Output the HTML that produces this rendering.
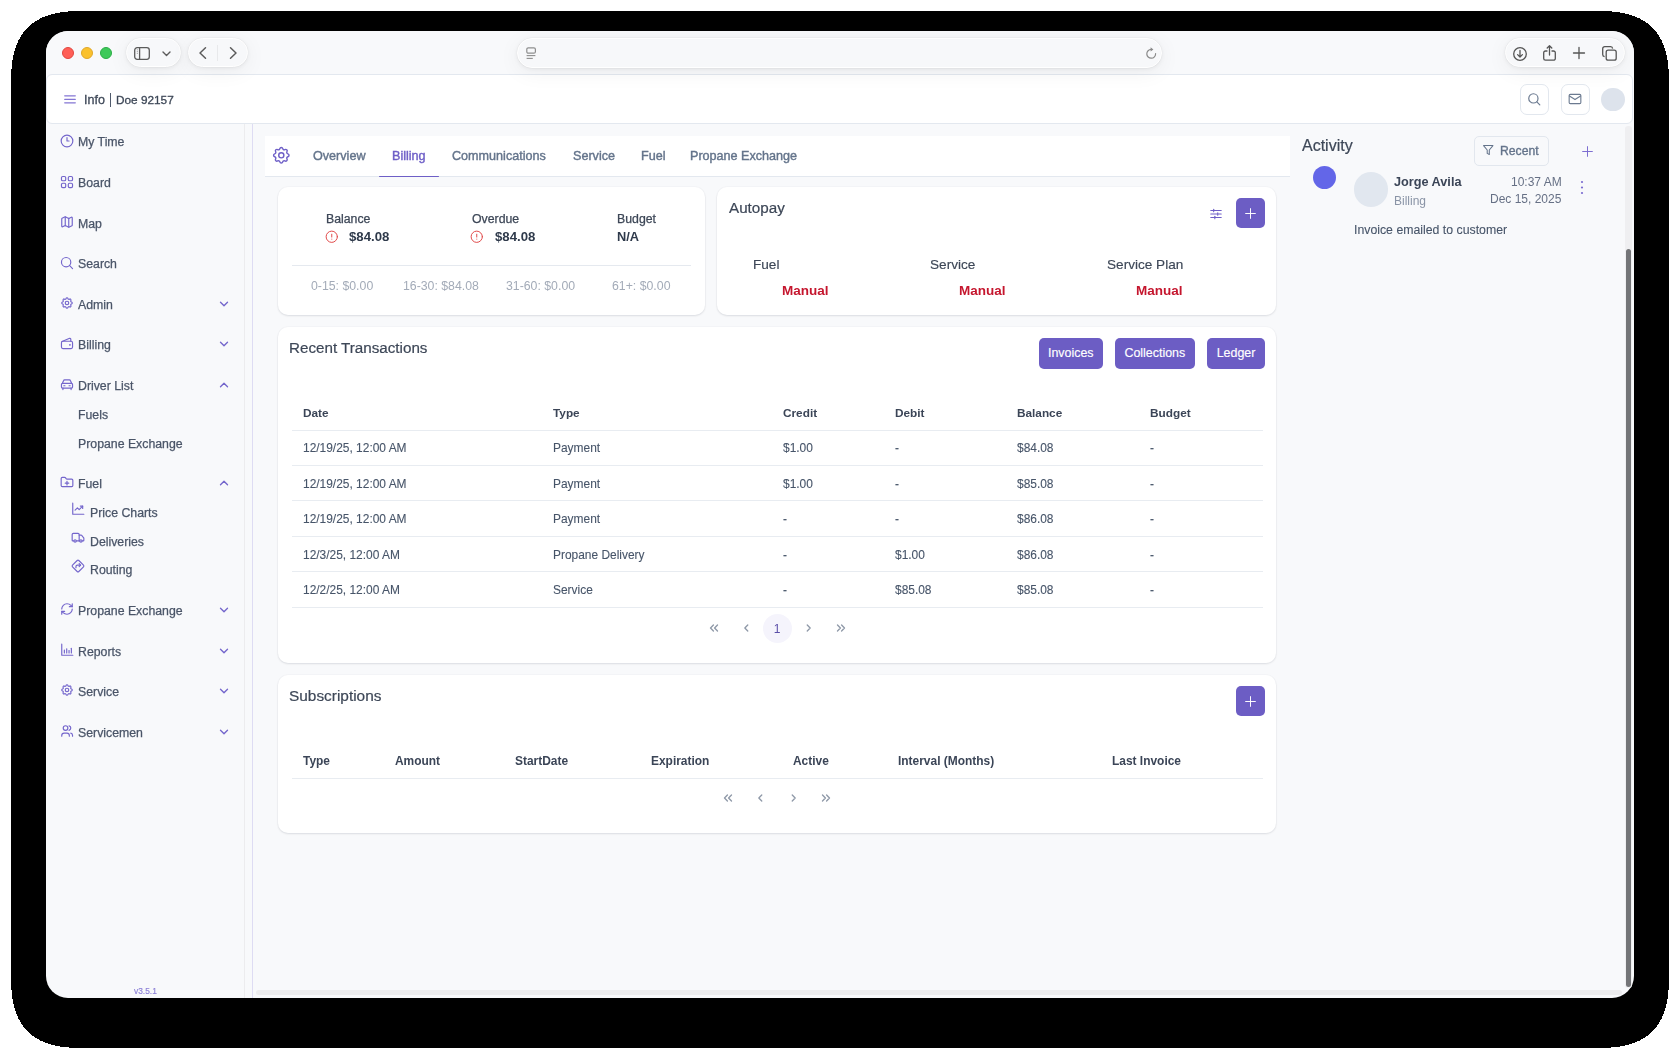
<!DOCTYPE html>
<html><head><meta charset="utf-8">
<style>
*{box-sizing:border-box;margin:0;padding:0}
html,body{width:1680px;height:1059px;overflow:hidden;background:#fff;font-family:"Liberation Sans",sans-serif;color:#475569}
.a{position:absolute}
.t{position:absolute;white-space:nowrap;will-change:transform}
svg{position:absolute;overflow:visible}
#shadow{left:10.5px;top:10px;width:1657.5px;height:1038px;border-radius:55px;background:#000}
#win{left:46px;top:31px;width:1588px;height:967px;border-radius:22px;background:#f8f9fb;overflow:hidden}
#toolbar{left:0;top:0;width:1588px;height:44px;background:#f8f9fb}
.pill{position:absolute;background:#f7f8fa;border:1.5px solid #fff;border-radius:16px;box-shadow:0 0 0 0.5px rgba(0,0,0,0.03),0 1px 4px rgba(0,0,0,0.06),0 4px 22px rgba(0,0,0,0.06)}
.dot{position:absolute;width:12px;height:12px;border-radius:50%}
.card{position:absolute;background:#fff;border-radius:10px;box-shadow:0 1px 2px rgba(16,24,40,0.07),0 1px 3px rgba(16,24,40,0.04),0 0 0 1px rgba(16,24,40,0.015)}
.btn{position:absolute;background:#6c5dc4;border-radius:5px;color:#fff;font-size:12px;text-align:center}
.hl{position:absolute;height:1px;background:#e8ecf1}
</style></head><body>
<svg width="1680" height="1059" style="left:0;top:0"><defs><filter id="shf" x="-10%" y="-10%" width="120%" height="120%"><feGaussianBlur stdDeviation="20"/><feComponentTransfer><feFuncA type="discrete" tableValues="0 0 0 0 0 0 0 0 0 0 0 0 0 0 0 0 0 0 0 0 0 0 0 0 0 0 0 0 0 0 0 0 0 0 0 0 0 0 0 0 1 1 1 1 1 1 1 1 1 1 1 1 1 1 1 1 1 1 1 1 1 1 1 1 1 1 1 1 1 1 1 1 1 1 1 1 1 1 1 1 1 1 1 1 1 1 1 1 1 1 1 1 1 1 1 1 1 1 1 1"/></feComponentTransfer></filter></defs><rect x="16" y="16" width="1648" height="1027" rx="40" fill="#000" filter="url(#shf)"/></svg>
<div id="win" class="a">
  <div id="toolbar" class="a"></div>
</div>
<div class="a" style="left:46px;top:74px;width:1587px;height:50px;background:#fff;border:1px solid #e3e8ef;border-radius:6px"></div>
<div class="a" style="left:46px;top:31px;width:0;height:0">
<!-- traffic lights -->
  <div class="dot" style="left:16px;top:16px;background:#ff5f57;border:0.5px solid #e2463f"></div>
  <div class="dot" style="left:35px;top:16px;background:#fac12e;border:0.5px solid #e0a82a"></div>
  <div class="dot" style="left:54px;top:16px;background:#3ec95a;border:0.5px solid #2aad46"></div>
  <!-- sidebar pill -->
  <div class="pill" style="left:80px;top:7px;width:55px;height:29px"></div>
  <svg style="left:88px;top:16px" width="16" height="13" viewBox="0 0 16 13"><rect x="0.7" y="0.7" width="14.6" height="11.6" rx="2.5" fill="none" stroke="#5b5b5b" stroke-width="1.3"/><line x1="5.6" y1="1" x2="5.6" y2="12" stroke="#5b5b5b" stroke-width="1.3"/><path d="M2.8 2.8h1.2M2.8 4.6h1.2M2.8 6.4h1.2" stroke="#9a9a9a" stroke-width="0.8"/></svg>
  <svg style="left:116px;top:20px" width="9" height="6" viewBox="0 0 9 6"><path d="M1 1 L4.5 4.5 L8 1" fill="none" stroke="#5b5b5b" stroke-width="1.4" stroke-linecap="round" stroke-linejoin="round"/></svg>
  <!-- back/forward pill -->
  <div class="pill" style="left:142px;top:7px;width:60px;height:29px"></div>
  <svg style="left:153px;top:16px" width="8" height="12" viewBox="0 0 8 12"><path d="M6.5 0.8 L1 6 L6.5 11.2" fill="none" stroke="#5b5b5b" stroke-width="1.5" stroke-linecap="round" stroke-linejoin="round"/></svg>
  <div class="a" style="left:171px;top:14px;width:1px;height:16px;background:#e8e9eb"></div>
  <svg style="left:183px;top:16px" width="8" height="12" viewBox="0 0 8 12"><path d="M1.5 0.8 L7 6 L1.5 11.2" fill="none" stroke="#5b5b5b" stroke-width="1.5" stroke-linecap="round" stroke-linejoin="round"/></svg>
  <!-- url bar -->
  <div class="pill" style="left:471px;top:7px;width:645px;height:30px;border-radius:15px"></div>
  <svg style="left:480px;top:16px" width="10" height="13" viewBox="0 0 10 13"><rect x="0.8" y="0.8" width="8.6" height="5.4" rx="1.5" fill="none" stroke="#8e8e8e" stroke-width="1.2"/><line x1="0.6" y1="8.6" x2="9.4" y2="8.6" stroke="#8e8e8e" stroke-width="1.1"/><line x1="0.6" y1="11.4" x2="6.8" y2="11.4" stroke="#8e8e8e" stroke-width="1.1"/></svg>
  <svg style="left:1100px;top:16px" width="11" height="13" viewBox="0 0 11 13"><path d="M9.6 6.6 A4.4 4.4 0 1 1 5.2 2.4" fill="none" stroke="#8a8a8a" stroke-width="1.2" stroke-linecap="round"/><path d="M4.6 0.2 L7.4 2.4 L4.6 4.6 Z" fill="#8a8a8a"/></svg>
  <!-- right pill -->
  <div class="pill" style="left:1459px;top:7px;width:120px;height:29px"></div>
  <svg style="left:1467px;top:15.5px" width="14" height="14" viewBox="0 0 14 14"><circle cx="7" cy="7" r="6.3" fill="none" stroke="#555" stroke-width="1.3"/><path d="M7 3.4 V9.8 M4.6 7.6 L7 10 L9.4 7.6" fill="none" stroke="#555" stroke-width="1.3" stroke-linecap="round" stroke-linejoin="round"/></svg>
  <svg style="left:1497px;top:14px" width="13" height="16" viewBox="0 0 13 16"><path d="M4 6 H2.5 A1.8 1.8 0 0 0 0.7 7.8 V13.4 A1.8 1.8 0 0 0 2.5 15.2 H10.5 A1.8 1.8 0 0 0 12.3 13.4 V7.8 A1.8 1.8 0 0 0 10.5 6 H9 M6.5 10 V0.8 M4.2 3 L6.5 0.8 L8.8 3" fill="none" stroke="#555" stroke-width="1.3" stroke-linecap="round" stroke-linejoin="round"/></svg>
  <svg style="left:1527px;top:16px" width="12" height="12" viewBox="0 0 12 12"><path d="M6 0.5 V11.5 M0.5 6 H11.5" fill="none" stroke="#555" stroke-width="1.3" stroke-linecap="round"/></svg>
  <svg style="left:1556px;top:15px" width="15" height="15" viewBox="0 0 15 15"><rect x="4.2" y="4.2" width="10" height="10" rx="2" fill="none" stroke="#555" stroke-width="1.3"/><path d="M2.6 10.6 A2 2 0 0 1 0.7 8.6 V2.7 A2 2 0 0 1 2.7 0.7 H8.6 A2 2 0 0 1 10.6 2.6" fill="none" stroke="#555" stroke-width="1.3"/></svg>

  </div>
<svg style="left:64.2px;top:94.6px" width="12" height="9" viewBox="0 0 12 9"><path d="M0.7 0.8H11.3M0.7 4.3H11.3M0.7 7.8H11.3" stroke="#8476d4" stroke-width="1.25" stroke-linecap="round"/></svg>
<div class="t" style="left:84.0px;top:91.8px;font-size:12.5px;line-height:16px;color:#3d4757;font-weight:normal;-webkit-text-stroke:0.3px #3d4757">Info</div>
<div class="a" style="left:110px;top:93px;width:1px;height:14px;background:#4f5a6c"></div>
<div class="t" style="left:116.2px;top:91.8px;font-size:11.8px;line-height:16px;color:#3d4757;font-weight:normal;-webkit-text-stroke:0.3px #3d4757">Doe 92157</div>
<div class="a" style="left:1520.4px;top:84.2px;width:28.6px;height:30.4px;border:1px solid #e2e7ee;border-radius:7px;background:#fff"></div>
<svg style="left:1527.4px;top:91.9px" width="15" height="15" viewBox="0 0 24 24" fill="none" stroke="#6b7a90" stroke-width="1.9" stroke-linecap="round" stroke-linejoin="round"><circle cx="10.2" cy="10.2" r="7.4"/><path d="M20.5 20.5l-4.8-4.8"/></svg>
<div class="a" style="left:1561px;top:84.2px;width:28.6px;height:30.4px;border:1px solid #e2e7ee;border-radius:7px;background:#fff"></div>
<svg style="left:1568.2px;top:91.9px" width="14" height="14" viewBox="0 0 24 24" fill="none" stroke="#6b7a90" stroke-width="1.9" stroke-linecap="round" stroke-linejoin="round"><rect x="2" y="4" width="20" height="16" rx="2"/><path d="M2.5 7l9.5 6 9.5-6"/></svg>
<div class="a" style="left:1601.4px;top:87.5px;width:23.3px;height:23.3px;border-radius:50%;background:#dde3ec"></div>
<div class="a" style="left:244px;top:124px;width:1px;height:874px;background:#ececee"></div>
<div class="a" style="left:252px;top:124px;width:1px;height:874px;background:#dedcf3"></div>
<svg style="left:59.6px;top:133.70000000000002px" width="14" height="14" viewBox="0 0 24 24" fill="none" stroke="#7466cc" stroke-width="2.0" stroke-linecap="round" stroke-linejoin="round"><circle cx="12" cy="12" r="10"/><path d="M12 6v6h3.5"/></svg>
<div class="t" style="left:78.3px;top:134.3px;font-size:12.3px;line-height:16px;color:#4a5568;font-weight:normal;-webkit-text-stroke:0.25px #4a5568">My Time</div>
<svg style="left:59.6px;top:174.6px" width="14" height="14" viewBox="0 0 24 24" fill="none" stroke="#7466cc" stroke-width="2.0" stroke-linecap="round" stroke-linejoin="round"><rect x="2.5" y="2.5" width="7.3" height="7.3" rx="2.2"/><rect x="14.2" y="2.5" width="7.3" height="7.3" rx="2.2"/><rect x="2.5" y="14.2" width="7.3" height="7.3" rx="2.2"/><rect x="14.2" y="14.2" width="7.3" height="7.3" rx="2.2"/></svg>
<div class="t" style="left:78.3px;top:175.2px;font-size:12.3px;line-height:16px;color:#4a5568;font-weight:normal;-webkit-text-stroke:0.25px #4a5568">Board</div>
<svg style="left:59.6px;top:215.3px" width="14" height="14" viewBox="0 0 24 24" fill="none" stroke="#7466cc" stroke-width="2.0" stroke-linecap="round" stroke-linejoin="round"><path d="M14.1 5.55a2 2 0 0 0 1.79 0l3.66-1.83A1 1 0 0 1 21 4.62v12.76a1 1 0 0 1-.55.9l-4.55 2.27a2 2 0 0 1-1.79 0l-4.21-2.1a2 2 0 0 0-1.79 0l-3.66 1.83A1 1 0 0 1 3 19.38V6.62a1 1 0 0 1 .55-.9l4.55-2.27a2 2 0 0 1 1.79 0z"/><path d="M15 5.76v15"/><path d="M9 3.24v15"/></svg>
<div class="t" style="left:78.3px;top:215.9px;font-size:12.3px;line-height:16px;color:#4a5568;font-weight:normal;-webkit-text-stroke:0.25px #4a5568">Map</div>
<svg style="left:59.6px;top:255.79999999999998px" width="14" height="14" viewBox="0 0 24 24" fill="none" stroke="#7466cc" stroke-width="2.0" stroke-linecap="round" stroke-linejoin="round"><circle cx="10.5" cy="10.5" r="8"/><path d="M21.5 21.5l-5.3-5.3"/></svg>
<div class="t" style="left:78.3px;top:256.4px;font-size:12.3px;line-height:16px;color:#4a5568;font-weight:normal;-webkit-text-stroke:0.25px #4a5568">Search</div>
<svg style="left:59.6px;top:296.2px" width="14" height="14" viewBox="0 0 24 24" fill="none" stroke="#7466cc" stroke-width="2.0" stroke-linecap="round" stroke-linejoin="round"><path d="M10.325 4.317c.426 -1.756 2.924 -1.756 3.35 0a1.724 1.724 0 0 0 2.573 1.066c1.543 -.94 3.31 .826 2.37 2.37a1.724 1.724 0 0 0 1.065 2.572c1.756 .426 1.756 2.924 0 3.35a1.724 1.724 0 0 0 -1.066 2.573c.94 1.543 -.826 3.31 -2.37 2.37a1.724 1.724 0 0 0 -2.572 1.065c-.426 1.756 -2.924 1.756 -3.35 0a1.724 1.724 0 0 0 -2.573 -1.066c-1.543 .94 -3.31 -.826 -2.37 -2.37a1.724 1.724 0 0 0 -1.065 -2.572c-1.756 -.426 -1.756 -2.924 0 -3.35a1.724 1.724 0 0 0 1.066 -2.573c-.94 -1.543 .826 -3.31 2.37 -2.37c1 .608 2.296 .07 2.572 -1.065z"/><circle cx="12" cy="12" r="3"/></svg>
<div class="t" style="left:78.3px;top:296.8px;font-size:12.3px;line-height:16px;color:#4a5568;font-weight:normal;-webkit-text-stroke:0.25px #4a5568">Admin</div>
<svg style="left:217px;top:297.2px" width="14" height="14" viewBox="0 0 24 24" fill="none" stroke="#7466cc" stroke-width="2.3" stroke-linecap="round" stroke-linejoin="round"><path d="M6 9l6 6 6-6"/></svg>
<svg style="left:59.6px;top:336.4px" width="14" height="14" viewBox="0 0 24 24" fill="none" stroke="#7466cc" stroke-width="2.0" stroke-linecap="round" stroke-linejoin="round"><path d="M3.5 9.5 L16.5 4 a1.5 1.5 0 0 1 2 1.4 V9"/><rect x="2.5" y="9" width="19" height="12.5" rx="2.5"/><circle cx="17" cy="15.2" r="0.6"/></svg>
<div class="t" style="left:78.3px;top:337.0px;font-size:12.3px;line-height:16px;color:#4a5568;font-weight:normal;-webkit-text-stroke:0.25px #4a5568">Billing</div>
<svg style="left:217px;top:337.4px" width="14" height="14" viewBox="0 0 24 24" fill="none" stroke="#7466cc" stroke-width="2.3" stroke-linecap="round" stroke-linejoin="round"><path d="M6 9l6 6 6-6"/></svg>
<svg style="left:59.6px;top:376.9px" width="14" height="14" viewBox="0 0 24 24" fill="none" stroke="#7466cc" stroke-width="2.0" stroke-linecap="round" stroke-linejoin="round"><path d="M4 11 L6 6.3 A2 2 0 0 1 7.9 5 H16.1 A2 2 0 0 1 18 6.3 L20 11"/><rect x="2.5" y="11" width="19" height="8" rx="2"/><path d="M5 19v2.5"/><path d="M19 19v2.5"/><path d="M6.5 15h2"/><path d="M15.5 15h2"/></svg>
<div class="t" style="left:78.3px;top:377.5px;font-size:12.3px;line-height:16px;color:#4a5568;font-weight:normal;-webkit-text-stroke:0.25px #4a5568">Driver List</div>
<svg style="left:217px;top:377.9px" width="14" height="14" viewBox="0 0 24 24" fill="none" stroke="#7466cc" stroke-width="2.3" stroke-linecap="round" stroke-linejoin="round"><path d="M6 15l6-6 6 6"/></svg>
<div class="t" style="left:78.3px;top:406.6px;font-size:12.3px;line-height:16px;color:#4a5568;font-weight:normal;-webkit-text-stroke:0.25px #4a5568">Fuels</div>
<div class="t" style="left:78.3px;top:435.7px;font-size:12.3px;line-height:16px;color:#4a5568;font-weight:normal;-webkit-text-stroke:0.25px #4a5568">Propane Exchange</div>
<svg style="left:59.6px;top:475.0px" width="14" height="14" viewBox="0 0 24 24" fill="none" stroke="#7466cc" stroke-width="2.0" stroke-linecap="round" stroke-linejoin="round"><path d="M12 11v6"/><path d="M9 14h6"/><path d="M20 20a2 2 0 0 0 2-2V9a2 2 0 0 0-2-2h-7.9a2 2 0 0 1-1.69-.9L9.6 4.9A2 2 0 0 0 7.93 4H4a2 2 0 0 0-2 2v12a2 2 0 0 0 2 2Z"/></svg>
<div class="t" style="left:78.3px;top:475.6px;font-size:12.3px;line-height:16px;color:#4a5568;font-weight:normal;-webkit-text-stroke:0.25px #4a5568">Fuel</div>
<svg style="left:217px;top:476.0px" width="14" height="14" viewBox="0 0 24 24" fill="none" stroke="#7466cc" stroke-width="2.3" stroke-linecap="round" stroke-linejoin="round"><path d="M6 15l6-6 6 6"/></svg>
<svg style="left:71px;top:501.70000000000005px" width="14" height="14" viewBox="0 0 24 24" fill="none" stroke="#7466cc" stroke-width="2.0" stroke-linecap="round" stroke-linejoin="round"><path d="M3 2v19h19"/><path d="M7 14l4-4 3 3 6-6"/><path d="M16 7h4v4"/></svg>
<div class="t" style="left:89.7px;top:504.7px;font-size:12.3px;line-height:16px;color:#4a5568;font-weight:normal;-webkit-text-stroke:0.25px #4a5568">Price Charts</div>
<svg style="left:71px;top:530.5px" width="14" height="14" viewBox="0 0 24 24" fill="none" stroke="#7466cc" stroke-width="2.0" stroke-linecap="round" stroke-linejoin="round"><path d="M14 17V6a2 2 0 0 0-2-2H4a2 2 0 0 0-2 2v10a1 1 0 0 0 1 1h2"/><path d="M15 17H9"/><path d="M19 17h2a1 1 0 0 0 1-1v-3.65a1 1 0 0 0-.22-.62l-3.48-4.35A1 1 0 0 0 17.52 7H14"/><circle cx="17" cy="17" r="2"/><circle cx="7" cy="17" r="2"/></svg>
<div class="t" style="left:89.7px;top:533.5px;font-size:12.3px;line-height:16px;color:#4a5568;font-weight:normal;-webkit-text-stroke:0.25px #4a5568">Deliveries</div>
<svg style="left:71px;top:559.3px" width="14" height="14" viewBox="0 0 24 24" fill="none" stroke="#7466cc" stroke-width="2.0" stroke-linecap="round" stroke-linejoin="round"><path d="M10.6 2.6 L2.6 10.6 a2 2 0 0 0 0 2.8 L10.6 21.4 a2 2 0 0 0 2.8 0 L21.4 13.4 a2 2 0 0 0 0 -2.8 L13.4 2.6 a2 2 0 0 0 -2.8 0z"/><path d="M8.5 15v-2a2.5 2.5 0 0 1 2.5-2.5h5"/><path d="M14 8l2.5 2.5L14 13"/></svg>
<div class="t" style="left:89.7px;top:562.3px;font-size:12.3px;line-height:16px;color:#4a5568;font-weight:normal;-webkit-text-stroke:0.25px #4a5568">Routing</div>
<svg style="left:59.6px;top:602.1px" width="14" height="14" viewBox="0 0 24 24" fill="none" stroke="#7466cc" stroke-width="2.0" stroke-linecap="round" stroke-linejoin="round"><path d="M3 12a9 9 0 0 1 9-9 9.75 9.75 0 0 1 6.74 2.74L21 8"/><path d="M21 3v5h-5"/><path d="M21 12a9 9 0 0 1-9 9 9.75 9.75 0 0 1-6.74-2.74L3 16"/><path d="M8 16H3v5"/></svg>
<div class="t" style="left:78.3px;top:602.7px;font-size:12.3px;line-height:16px;color:#4a5568;font-weight:normal;-webkit-text-stroke:0.25px #4a5568">Propane Exchange</div>
<svg style="left:217px;top:603.1px" width="14" height="14" viewBox="0 0 24 24" fill="none" stroke="#7466cc" stroke-width="2.3" stroke-linecap="round" stroke-linejoin="round"><path d="M6 9l6 6 6-6"/></svg>
<svg style="left:59.6px;top:642.9px" width="14" height="14" viewBox="0 0 24 24" fill="none" stroke="#7466cc" stroke-width="2.0" stroke-linecap="round" stroke-linejoin="round"><path d="M3 2v19h19"/><path d="M7.5 17v-5"/><path d="M11.5 17v-7"/><path d="M15.5 17v-4"/><path d="M19.5 17v-8"/></svg>
<div class="t" style="left:78.3px;top:643.5px;font-size:12.3px;line-height:16px;color:#4a5568;font-weight:normal;-webkit-text-stroke:0.25px #4a5568">Reports</div>
<svg style="left:217px;top:643.9px" width="14" height="14" viewBox="0 0 24 24" fill="none" stroke="#7466cc" stroke-width="2.3" stroke-linecap="round" stroke-linejoin="round"><path d="M6 9l6 6 6-6"/></svg>
<svg style="left:59.6px;top:683.1px" width="14" height="14" viewBox="0 0 24 24" fill="none" stroke="#7466cc" stroke-width="2.0" stroke-linecap="round" stroke-linejoin="round"><path d="M10.325 4.317c.426 -1.756 2.924 -1.756 3.35 0a1.724 1.724 0 0 0 2.573 1.066c1.543 -.94 3.31 .826 2.37 2.37a1.724 1.724 0 0 0 1.065 2.572c1.756 .426 1.756 2.924 0 3.35a1.724 1.724 0 0 0 -1.066 2.573c.94 1.543 -.826 3.31 -2.37 2.37a1.724 1.724 0 0 0 -2.572 1.065c-.426 1.756 -2.924 1.756 -3.35 0a1.724 1.724 0 0 0 -2.573 -1.066c-1.543 .94 -3.31 -.826 -2.37 -2.37a1.724 1.724 0 0 0 -1.065 -2.572c-1.756 -.426 -1.756 -2.924 0 -3.35a1.724 1.724 0 0 0 1.066 -2.573c-.94 -1.543 .826 -3.31 2.37 -2.37c1 .608 2.296 .07 2.572 -1.065z"/><circle cx="12" cy="12" r="3"/></svg>
<div class="t" style="left:78.3px;top:683.7px;font-size:12.3px;line-height:16px;color:#4a5568;font-weight:normal;-webkit-text-stroke:0.25px #4a5568">Service</div>
<svg style="left:217px;top:684.1px" width="14" height="14" viewBox="0 0 24 24" fill="none" stroke="#7466cc" stroke-width="2.3" stroke-linecap="round" stroke-linejoin="round"><path d="M6 9l6 6 6-6"/></svg>
<svg style="left:59.6px;top:723.9px" width="14" height="14" viewBox="0 0 24 24" fill="none" stroke="#7466cc" stroke-width="2.0" stroke-linecap="round" stroke-linejoin="round"><path d="M16 21v-1.5a4 4 0 0 0-4-4H7a4 4 0 0 0-4 4V21"/><circle cx="9.5" cy="7" r="4"/><path d="M21.5 21v-1.5a4 4 0 0 0-3-3.87"/><path d="M15.5 3.13a4 4 0 0 1 0 7.75"/></svg>
<div class="t" style="left:78.3px;top:724.5px;font-size:12.3px;line-height:16px;color:#4a5568;font-weight:normal;-webkit-text-stroke:0.25px #4a5568">Servicemen</div>
<svg style="left:217px;top:724.9px" width="14" height="14" viewBox="0 0 24 24" fill="none" stroke="#7466cc" stroke-width="2.3" stroke-linecap="round" stroke-linejoin="round"><path d="M6 9l6 6 6-6"/></svg>
<div class="t" style="left:134px;top:985.5px;font-size:8.4px;line-height:10px;color:#8b7fd6;font-weight:normal;-webkit-text-stroke:0.15px #8b7fd6">v3.5.1</div>
<div class="a" style="left:264.5px;top:135.5px;width:1025.5px;height:41px;background:#fff;border-bottom:1px solid #e3e8ef"></div>
<svg style="left:271.45px;top:144.95px" width="20.6" height="20.6" viewBox="0 0 24 24" fill="none" stroke="#6e5fc7" stroke-width="1.65" stroke-linecap="round" stroke-linejoin="round"><path d="M10.325 4.317c.426 -1.756 2.924 -1.756 3.35 0a1.724 1.724 0 0 0 2.573 1.066c1.543 -.94 3.31 .826 2.37 2.37a1.724 1.724 0 0 0 1.065 2.572c1.756 .426 1.756 2.924 0 3.35a1.724 1.724 0 0 0 -1.066 2.573c.94 1.543 -.826 3.31 -2.37 2.37a1.724 1.724 0 0 0 -2.572 1.065c-.426 1.756 -2.924 1.756 -3.35 0a1.724 1.724 0 0 0 -2.573 -1.066c-1.543 .94 -3.31 -.826 -2.37 -2.37a1.724 1.724 0 0 0 -1.065 -2.572c-1.756 -.426 -1.756 -2.924 0 -3.35a1.724 1.724 0 0 0 1.066 -2.573c-.94 -1.543 .826 -3.31 2.37 -2.37c1 .608 2.296 .07 2.572 -1.065z"/><circle cx="12" cy="12" r="3"/></svg>
<div class="t" style="left:312.5px;top:147.9px;font-size:12.6px;line-height:16px;color:#64748b;font-weight:normal;-webkit-text-stroke:0.4px #64748b">Overview</div>
<div class="t" style="left:391.8px;top:147.9px;font-size:12.6px;line-height:16px;color:#6e5fc7;font-weight:normal;-webkit-text-stroke:0.4px #6e5fc7">Billing</div>
<div class="t" style="left:451.8px;top:147.9px;font-size:12.6px;line-height:16px;color:#64748b;font-weight:normal;-webkit-text-stroke:0.4px #64748b">Communications</div>
<div class="t" style="left:572.5px;top:147.9px;font-size:12.6px;line-height:16px;color:#64748b;font-weight:normal;-webkit-text-stroke:0.4px #64748b">Service</div>
<div class="t" style="left:640.7px;top:147.9px;font-size:12.6px;line-height:16px;color:#64748b;font-weight:normal;-webkit-text-stroke:0.4px #64748b">Fuel</div>
<div class="t" style="left:690px;top:147.9px;font-size:12.6px;line-height:16px;color:#64748b;font-weight:normal;-webkit-text-stroke:0.4px #64748b">Propane Exchange</div>
<div class="a" style="left:378.6px;top:175.5px;width:60.4px;height:1.6px;background:#6e5fc7;border-radius:1px"></div>
<div class="card" style="left:278px;top:187px;width:427px;height:128px"></div>
<div class="t" style="left:325.7px;top:211.3px;font-size:12.3px;line-height:16px;color:#3d4757;font-weight:normal;-webkit-text-stroke:0.25px #3d4757">Balance</div>
<svg style="left:325px;top:229.6px" width="13.5" height="13.5" viewBox="0 0 24 24" fill="none" stroke="#e04848" stroke-width="1.75" stroke-linecap="round" stroke-linejoin="round"><circle cx="12" cy="12" r="10"/><path d="M12 7.5v5"/><path d="M12 16.2v.1"/></svg>
<div class="t" style="left:349.3px;top:228.6px;font-size:13.2px;line-height:16px;color:#2f3a4b;font-weight:bold;">$84.08</div>
<div class="t" style="left:471.5px;top:211.3px;font-size:12.3px;line-height:16px;color:#3d4757;font-weight:normal;-webkit-text-stroke:0.25px #3d4757">Overdue</div>
<svg style="left:470.2px;top:229.6px" width="13.5" height="13.5" viewBox="0 0 24 24" fill="none" stroke="#e04848" stroke-width="1.75" stroke-linecap="round" stroke-linejoin="round"><circle cx="12" cy="12" r="10"/><path d="M12 7.5v5"/><path d="M12 16.2v.1"/></svg>
<div class="t" style="left:494.5px;top:228.6px;font-size:13.2px;line-height:16px;color:#2f3a4b;font-weight:bold;">$84.08</div>
<div class="t" style="left:616.8px;top:211.3px;font-size:12.3px;line-height:16px;color:#3d4757;font-weight:normal;-webkit-text-stroke:0.25px #3d4757">Budget</div>
<div class="t" style="left:616.8px;top:228.6px;font-size:12.8px;line-height:16px;color:#2f3a4b;font-weight:bold;">N/A</div>
<div class="hl" style="left:292px;top:265px;width:399px;background:#e5e9ef"></div>
<div class="t" style="left:310.7px;top:277.8px;font-size:12.3px;line-height:16px;color:#a3abb8;font-weight:normal;">0-15: $0.00</div>
<div class="t" style="left:403.2px;top:277.8px;font-size:12.3px;line-height:16px;color:#a3abb8;font-weight:normal;">16-30: $84.08</div>
<div class="t" style="left:506.4px;top:277.8px;font-size:12.3px;line-height:16px;color:#a3abb8;font-weight:normal;">31-60: $0.00</div>
<div class="t" style="left:611.9px;top:277.8px;font-size:12.3px;line-height:16px;color:#a3abb8;font-weight:normal;">61+: $0.00</div>
<div class="card" style="left:717px;top:187px;width:559px;height:128px"></div>
<div class="t" style="left:729px;top:199.3px;font-size:15.2px;line-height:18px;color:#3d4757;font-weight:normal;-webkit-text-stroke:0.2px #3d4757">Autopay</div>
<svg style="left:1208.6px;top:207.3px" width="14" height="14" viewBox="0 0 24 24" fill="none" stroke="#6e5fc7" stroke-width="1.8" stroke-linecap="round" stroke-linejoin="round"><path d="M3 6h18"/><path d="M3 12h18"/><path d="M3 18h18"/><path d="M8 4v4"/><path d="M15 10v4"/><path d="M10 16v4"/></svg>
<div class="btn" style="left:1236px;top:197.8px;width:29px;height:30.5px"></div>
<svg style="left:1244px;top:207px" width="13" height="13" viewBox="0 0 24 24" fill="none" stroke="#fff" stroke-width="1.8" stroke-linecap="round" stroke-linejoin="round"><path d="M12 3v18M3 12h18"/></svg>
<div class="t" style="left:753px;top:256.8px;font-size:13.6px;line-height:16px;color:#3d4757;font-weight:normal;-webkit-text-stroke:0.15px #3d4757">Fuel</div>
<div class="t" style="left:781.8px;top:282.6px;font-size:13.5px;line-height:16px;color:#c5162e;font-weight:bold;">Manual</div>
<div class="t" style="left:930px;top:256.8px;font-size:13.6px;line-height:16px;color:#3d4757;font-weight:normal;-webkit-text-stroke:0.15px #3d4757">Service</div>
<div class="t" style="left:959px;top:282.6px;font-size:13.5px;line-height:16px;color:#c5162e;font-weight:bold;">Manual</div>
<div class="t" style="left:1107px;top:256.8px;font-size:13.6px;line-height:16px;color:#3d4757;font-weight:normal;-webkit-text-stroke:0.15px #3d4757">Service Plan</div>
<div class="t" style="left:1135.6px;top:282.6px;font-size:13.5px;line-height:16px;color:#c5162e;font-weight:bold;">Manual</div>
<div class="card" style="left:278px;top:327px;width:998px;height:336px"></div>
<div class="t" style="left:289.2px;top:339.0px;font-size:15.2px;line-height:18px;color:#3d4757;font-weight:normal;-webkit-text-stroke:0.2px #3d4757">Recent Transactions</div>
<div class="btn" style="left:1038.5px;top:338px;width:64.5px;height:30.6px;line-height:30.6px;font-size:12.45px;-webkit-text-stroke:0.15px #fff">Invoices</div>
<div class="btn" style="left:1114.5px;top:338px;width:80.7px;height:30.6px;line-height:30.6px;font-size:12.45px;-webkit-text-stroke:0.15px #fff">Collections</div>
<div class="btn" style="left:1207px;top:338px;width:58px;height:30.6px;line-height:30.6px;font-size:12.45px;-webkit-text-stroke:0.15px #fff">Ledger</div>
<div class="t" style="left:303.4px;top:404.5px;font-size:11.8px;line-height:16px;color:#3b4557;font-weight:bold;">Date</div>
<div class="t" style="left:552.7px;top:404.5px;font-size:11.8px;line-height:16px;color:#3b4557;font-weight:bold;">Type</div>
<div class="t" style="left:782.7px;top:404.5px;font-size:11.8px;line-height:16px;color:#3b4557;font-weight:bold;">Credit</div>
<div class="t" style="left:895px;top:404.5px;font-size:11.8px;line-height:16px;color:#3b4557;font-weight:bold;">Debit</div>
<div class="t" style="left:1016.5px;top:404.5px;font-size:11.8px;line-height:16px;color:#3b4557;font-weight:bold;">Balance</div>
<div class="t" style="left:1149.6px;top:404.5px;font-size:11.8px;line-height:16px;color:#3b4557;font-weight:bold;">Budget</div>
<div class="hl" style="left:291.5px;top:430px;width:971px"></div>
<div class="t" style="left:303.4px;top:440.0px;font-size:11.95px;line-height:16px;color:#475569;font-weight:normal;-webkit-text-stroke:0.1px #475569">12/19/25, 12:00 AM</div>
<div class="t" style="left:552.7px;top:440.0px;font-size:11.95px;line-height:16px;color:#475569;font-weight:normal;-webkit-text-stroke:0.1px #475569">Payment</div>
<div class="t" style="left:782.7px;top:440.0px;font-size:11.95px;line-height:16px;color:#475569;font-weight:normal;-webkit-text-stroke:0.1px #475569">$1.00</div>
<div class="t" style="left:895px;top:440.0px;font-size:11.95px;line-height:16px;color:#475569;font-weight:normal;-webkit-text-stroke:0.1px #475569">-</div>
<div class="t" style="left:1016.5px;top:440.0px;font-size:11.95px;line-height:16px;color:#475569;font-weight:normal;-webkit-text-stroke:0.1px #475569">$84.08</div>
<div class="t" style="left:1149.6px;top:440.0px;font-size:11.95px;line-height:16px;color:#475569;font-weight:normal;-webkit-text-stroke:0.1px #475569">-</div>
<div class="hl" style="left:291.5px;top:465px;width:971px"></div>
<div class="t" style="left:303.4px;top:475.5px;font-size:11.95px;line-height:16px;color:#475569;font-weight:normal;-webkit-text-stroke:0.1px #475569">12/19/25, 12:00 AM</div>
<div class="t" style="left:552.7px;top:475.5px;font-size:11.95px;line-height:16px;color:#475569;font-weight:normal;-webkit-text-stroke:0.1px #475569">Payment</div>
<div class="t" style="left:782.7px;top:475.5px;font-size:11.95px;line-height:16px;color:#475569;font-weight:normal;-webkit-text-stroke:0.1px #475569">$1.00</div>
<div class="t" style="left:895px;top:475.5px;font-size:11.95px;line-height:16px;color:#475569;font-weight:normal;-webkit-text-stroke:0.1px #475569">-</div>
<div class="t" style="left:1016.5px;top:475.5px;font-size:11.95px;line-height:16px;color:#475569;font-weight:normal;-webkit-text-stroke:0.1px #475569">$85.08</div>
<div class="t" style="left:1149.6px;top:475.5px;font-size:11.95px;line-height:16px;color:#475569;font-weight:normal;-webkit-text-stroke:0.1px #475569">-</div>
<div class="hl" style="left:291.5px;top:500px;width:971px"></div>
<div class="t" style="left:303.4px;top:511.0px;font-size:11.95px;line-height:16px;color:#475569;font-weight:normal;-webkit-text-stroke:0.1px #475569">12/19/25, 12:00 AM</div>
<div class="t" style="left:552.7px;top:511.0px;font-size:11.95px;line-height:16px;color:#475569;font-weight:normal;-webkit-text-stroke:0.1px #475569">Payment</div>
<div class="t" style="left:782.7px;top:511.0px;font-size:11.95px;line-height:16px;color:#475569;font-weight:normal;-webkit-text-stroke:0.1px #475569">-</div>
<div class="t" style="left:895px;top:511.0px;font-size:11.95px;line-height:16px;color:#475569;font-weight:normal;-webkit-text-stroke:0.1px #475569">-</div>
<div class="t" style="left:1016.5px;top:511.0px;font-size:11.95px;line-height:16px;color:#475569;font-weight:normal;-webkit-text-stroke:0.1px #475569">$86.08</div>
<div class="t" style="left:1149.6px;top:511.0px;font-size:11.95px;line-height:16px;color:#475569;font-weight:normal;-webkit-text-stroke:0.1px #475569">-</div>
<div class="hl" style="left:291.5px;top:536px;width:971px"></div>
<div class="t" style="left:303.4px;top:546.5px;font-size:11.95px;line-height:16px;color:#475569;font-weight:normal;-webkit-text-stroke:0.1px #475569">12/3/25, 12:00 AM</div>
<div class="t" style="left:552.7px;top:546.5px;font-size:11.95px;line-height:16px;color:#475569;font-weight:normal;-webkit-text-stroke:0.1px #475569">Propane Delivery</div>
<div class="t" style="left:782.7px;top:546.5px;font-size:11.95px;line-height:16px;color:#475569;font-weight:normal;-webkit-text-stroke:0.1px #475569">-</div>
<div class="t" style="left:895px;top:546.5px;font-size:11.95px;line-height:16px;color:#475569;font-weight:normal;-webkit-text-stroke:0.1px #475569">$1.00</div>
<div class="t" style="left:1016.5px;top:546.5px;font-size:11.95px;line-height:16px;color:#475569;font-weight:normal;-webkit-text-stroke:0.1px #475569">$86.08</div>
<div class="t" style="left:1149.6px;top:546.5px;font-size:11.95px;line-height:16px;color:#475569;font-weight:normal;-webkit-text-stroke:0.1px #475569">-</div>
<div class="hl" style="left:291.5px;top:571px;width:971px"></div>
<div class="t" style="left:303.4px;top:582.0px;font-size:11.95px;line-height:16px;color:#475569;font-weight:normal;-webkit-text-stroke:0.1px #475569">12/2/25, 12:00 AM</div>
<div class="t" style="left:552.7px;top:582.0px;font-size:11.95px;line-height:16px;color:#475569;font-weight:normal;-webkit-text-stroke:0.1px #475569">Service</div>
<div class="t" style="left:782.7px;top:582.0px;font-size:11.95px;line-height:16px;color:#475569;font-weight:normal;-webkit-text-stroke:0.1px #475569">-</div>
<div class="t" style="left:895px;top:582.0px;font-size:11.95px;line-height:16px;color:#475569;font-weight:normal;-webkit-text-stroke:0.1px #475569">$85.08</div>
<div class="t" style="left:1016.5px;top:582.0px;font-size:11.95px;line-height:16px;color:#475569;font-weight:normal;-webkit-text-stroke:0.1px #475569">$85.08</div>
<div class="t" style="left:1149.6px;top:582.0px;font-size:11.95px;line-height:16px;color:#475569;font-weight:normal;-webkit-text-stroke:0.1px #475569">-</div>
<div class="hl" style="left:291.5px;top:607px;width:971px"></div>
<div class="a" style="left:763px;top:614px;width:29px;height:29px;border-radius:50%;background:#f5f4fc"></div>
<div class="t" style="left:577.0px;width:400px;text-align:center;top:620.5px;font-size:12px;line-height:16px;color:#5b4fa8;font-weight:normal;">1</div>
<svg style="left:707px;top:621px" width="14" height="14" viewBox="0 0 24 24" fill="none" stroke="#8f99a8" stroke-width="2.3" stroke-linecap="round" stroke-linejoin="round"><path d="M11 17l-5-5 5-5"/><path d="M18 17l-5-5 5-5"/></svg>
<svg style="left:738.8px;top:621px" width="14" height="14" viewBox="0 0 24 24" fill="none" stroke="#8f99a8" stroke-width="2.3" stroke-linecap="round" stroke-linejoin="round"><path d="M15 17l-5-5 5-5"/></svg>
<svg style="left:802.2px;top:621px" width="14" height="14" viewBox="0 0 24 24" fill="none" stroke="#8f99a8" stroke-width="2.3" stroke-linecap="round" stroke-linejoin="round"><path d="M9 17l5-5-5-5"/></svg>
<svg style="left:833.8px;top:621px" width="14" height="14" viewBox="0 0 24 24" fill="none" stroke="#8f99a8" stroke-width="2.3" stroke-linecap="round" stroke-linejoin="round"><path d="M6 17l5-5-5-5"/><path d="M13 17l5-5-5-5"/></svg>
<div class="card" style="left:278px;top:675px;width:998px;height:158px"></div>
<div class="t" style="left:289.4px;top:686.8px;font-size:15.4px;line-height:18px;color:#3d4757;font-weight:normal;-webkit-text-stroke:0.2px #3d4757">Subscriptions</div>
<div class="btn" style="left:1236px;top:686px;width:29px;height:30px"></div>
<svg style="left:1244px;top:694.5px" width="13" height="13" viewBox="0 0 24 24" fill="none" stroke="#fff" stroke-width="1.8" stroke-linecap="round" stroke-linejoin="round"><path d="M12 3v18M3 12h18"/></svg>
<div class="t" style="left:303.4px;top:752.7px;font-size:11.95px;line-height:16px;color:#3b4557;font-weight:bold;">Type</div>
<div class="t" style="left:394.5px;top:752.7px;font-size:11.95px;line-height:16px;color:#3b4557;font-weight:bold;">Amount</div>
<div class="t" style="left:515.3px;top:752.7px;font-size:11.95px;line-height:16px;color:#3b4557;font-weight:bold;">StartDate</div>
<div class="t" style="left:651.3px;top:752.7px;font-size:11.95px;line-height:16px;color:#3b4557;font-weight:bold;">Expiration</div>
<div class="t" style="left:793.4px;top:752.7px;font-size:11.95px;line-height:16px;color:#3b4557;font-weight:bold;">Active</div>
<div class="t" style="left:898.4px;top:752.7px;font-size:11.95px;line-height:16px;color:#3b4557;font-weight:bold;">Interval (Months)</div>
<div class="t" style="left:1112px;top:752.7px;font-size:11.95px;line-height:16px;color:#3b4557;font-weight:bold;">Last Invoice</div>
<div class="hl" style="left:291.5px;top:778px;width:971px"></div>
<svg style="left:721.3px;top:791px" width="14" height="14" viewBox="0 0 24 24" fill="none" stroke="#8f99a8" stroke-width="2.3" stroke-linecap="round" stroke-linejoin="round"><path d="M11 17l-5-5 5-5"/><path d="M18 17l-5-5 5-5"/></svg>
<svg style="left:753px;top:791px" width="14" height="14" viewBox="0 0 24 24" fill="none" stroke="#8f99a8" stroke-width="2.3" stroke-linecap="round" stroke-linejoin="round"><path d="M15 17l-5-5 5-5"/></svg>
<svg style="left:787px;top:791px" width="14" height="14" viewBox="0 0 24 24" fill="none" stroke="#8f99a8" stroke-width="2.3" stroke-linecap="round" stroke-linejoin="round"><path d="M9 17l5-5-5-5"/></svg>
<svg style="left:819.3px;top:791px" width="14" height="14" viewBox="0 0 24 24" fill="none" stroke="#8f99a8" stroke-width="2.3" stroke-linecap="round" stroke-linejoin="round"><path d="M6 17l5-5-5-5"/><path d="M13 17l5-5-5-5"/></svg>
<div class="t" style="left:1302px;top:137.3px;font-size:16px;line-height:18px;color:#3d4757;font-weight:normal;-webkit-text-stroke:0.2px #3d4757">Activity</div>
<div class="a" style="left:1473.5px;top:135.5px;width:75px;height:30px;border:1px solid #e2e7ee;border-radius:5px;background:#f8f9fb"></div>
<svg style="left:1481.5px;top:144px" width="12.5" height="12.5" viewBox="0 0 24 24" fill="none" stroke="#64748b" stroke-width="2" stroke-linecap="round" stroke-linejoin="round"><path d="M3 3h18l-7 8.5V20l-4-2v-6.5z"/></svg>
<div class="t" style="left:1500px;top:143.4px;font-size:12.2px;line-height:16px;color:#64748b;font-weight:normal;-webkit-text-stroke:0.35px #64748b">Recent</div>
<svg style="left:1580.5px;top:144.5px" width="13" height="13" viewBox="0 0 24 24" fill="none" stroke="#7a6bd0" stroke-width="1.8" stroke-linecap="round" stroke-linejoin="round"><path d="M12 3v18M3 12h18"/></svg>
<div class="a" style="left:1312.7px;top:165.7px;width:23.4px;height:23.4px;border-radius:50%;background:#6366e8"></div>
<div class="a" style="left:1353.5px;top:172px;width:34.5px;height:34.5px;border-radius:50%;background:#e1e7ef"></div>
<div class="t" style="left:1394.2px;top:173.8px;font-size:12.7px;line-height:16px;color:#3b4557;font-weight:bold;">Jorge Avila</div>
<div class="t" style="left:1394.2px;top:193.0px;font-size:12px;line-height:16px;color:#8a94a6;font-weight:normal;">Billing</div>
<div class="t" style="right:118.5px;top:173.5px;font-size:12px;line-height:16px;color:#667085;font-weight:normal;">10:37 AM</div>
<div class="t" style="right:118.5px;top:190.5px;font-size:12px;line-height:16px;color:#667085;font-weight:normal;">Dec 15, 2025</div>
<svg style="left:1580px;top:180px" width="4" height="16" viewBox="0 0 4 16"><circle cx="2" cy="2" r="1.1" fill="#7a6bd0"/><circle cx="2" cy="7.5" r="1.1" fill="#7a6bd0"/><circle cx="2" cy="13" r="1.1" fill="#7a6bd0"/></svg>
<div class="t" style="left:1353.5px;top:221.8px;font-size:12.3px;line-height:16px;color:#475569;font-weight:normal;-webkit-text-stroke:0.1px #475569">Invoice emailed to customer</div>
<div class="a" style="left:1625px;top:126px;width:6.5px;height:862px;border-radius:3px;background:#efeff1"></div>
<div class="a" style="left:1625.5px;top:249px;width:5.5px;height:738px;border-radius:3px;background:#747578"></div>
<div class="a" style="left:256px;top:989.5px;width:1366px;height:5.5px;border-radius:3px;background:#ececee"></div>
</body></html>
